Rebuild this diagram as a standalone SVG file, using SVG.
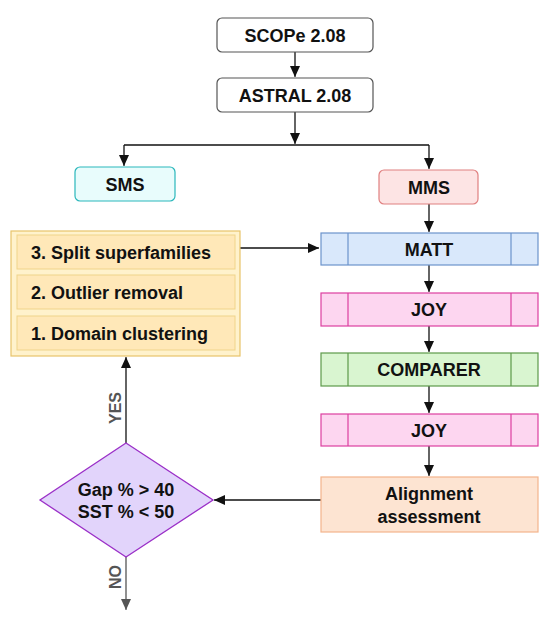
<svg xmlns="http://www.w3.org/2000/svg" width="551" height="628" viewBox="0 0 551 628">
<style>
text{font-family:"Liberation Sans",Arial,sans-serif;font-weight:bold;font-size:18px;fill:#111;}
.c{text-anchor:middle;}
.ln{fill:none;stroke:#111;stroke-width:1.3;}
.gl{fill:none;stroke:#555;stroke-width:1.3;}
.lab{fill:#555;font-size:16px;}
</style>
<defs>
<marker id="ah" markerWidth="10" markerHeight="12" refX="11" refY="5.5" orient="auto" markerUnits="userSpaceOnUse"><path d="M0,0.5 L11,5.5 L0,10.5 Z" fill="#111"/></marker>
<marker id="ahg" markerWidth="10" markerHeight="12" refX="11" refY="5.5" orient="auto" markerUnits="userSpaceOnUse"><path d="M0,0.5 L11,5.5 L0,10.5 Z" fill="#555"/></marker>
</defs>
<g id="connectors">
<path class="ln" d="M295,52 V77" marker-end="url(#ah)"/>
<path class="ln" d="M295,112 V144" marker-end="url(#ah)"/>
<path class="ln" d="M124,145 H429"/>
<path class="ln" d="M124,145 V166" marker-end="url(#ah)"/>
<path class="ln" d="M429,145 V169" marker-end="url(#ah)"/>
<path class="ln" d="M429,204 V232" marker-end="url(#ah)"/>
<path class="ln" d="M240,248 H319" marker-end="url(#ah)"/>
<path class="ln" d="M429,265 V292" marker-end="url(#ah)"/>
<path class="ln" d="M429,326 V352" marker-end="url(#ah)"/>
<path class="ln" d="M429,386 V413" marker-end="url(#ah)"/>
<path class="ln" d="M429,446 V476" marker-end="url(#ah)"/>
<path class="ln" d="M321,500 H214" marker-end="url(#ah)"/>
<path class="ln" d="M126,443 V357" marker-end="url(#ah)"/>
<path class="gl" d="M126,557 V610" marker-end="url(#ahg)"/>
<text class="lab c" transform="translate(121,408) rotate(-90)">YES</text>
<text class="lab c" transform="translate(121,577) rotate(-90)">NO</text>
</g>
<g id="scope">
<rect x="217" y="18" width="156" height="34" rx="5" fill="#fff" stroke="#555" stroke-width="1.2"/>
<text class="c" x="295" y="41.5">SCOPe 2.08</text>
</g>
<g id="astral">
<rect x="217" y="78" width="156" height="34" rx="5" fill="#fff" stroke="#555" stroke-width="1.2"/>
<text class="c" x="295" y="101.5">ASTRAL 2.08</text>
</g>
<g id="sms">
<rect x="75" y="167" width="100" height="34" rx="5" fill="#e8fcfc" stroke="#2ab7bb" stroke-width="1.2"/>
<text class="c" x="125" y="190.5">SMS</text>
</g>
<g id="mms">
<rect x="379" y="170" width="99" height="34" rx="5" fill="#fde4e4" stroke="#e08080" stroke-width="1.2"/>
<text class="c" x="429" y="193.5">MMS</text>
</g>
<g id="steps">
<rect x="11" y="231" width="229" height="125" fill="#fff2cc" stroke="#e8c46a" stroke-width="1.2"/>
<rect x="17" y="235" width="218" height="34" fill="#ffe8b8" stroke="#f0d48a" stroke-width="1"/>
<text x="31" y="258.5">3. Split superfamilies</text>
<rect x="17" y="275" width="218" height="34" fill="#ffe8b8" stroke="#f0d48a" stroke-width="1"/>
<text x="31" y="298.5">2. Outlier removal</text>
<rect x="17" y="316" width="218" height="34" fill="#ffe8b8" stroke="#f0d48a" stroke-width="1"/>
<text x="31" y="339.5">1. Domain clustering</text>
</g>
<g id="matt">
<rect x="321" y="233" width="217" height="32" fill="#d9e8fb" stroke="#6c93cc" stroke-width="1.2"/>
<path d="M348,233 V265 M511,233 V265" stroke="#6c93cc" stroke-width="1.2"/>
<text class="c" x="429" y="255.5">MATT</text>
</g>
<g id="joy1">
<rect x="321" y="293" width="217" height="33" fill="#fdd6f0" stroke="#dd3fa0" stroke-width="1.2"/>
<path d="M348,293 V326 M511,293 V326" stroke="#dd3fa0" stroke-width="1.2"/>
<text class="c" x="429" y="316">JOY</text>
</g>
<g id="comparer">
<rect x="321" y="353" width="217" height="33" fill="#d9f5d0" stroke="#5d9a4a" stroke-width="1.2"/>
<path d="M348,353 V386 M511,353 V386" stroke="#5d9a4a" stroke-width="1.2"/>
<text class="c" x="429" y="376">COMPARER</text>
</g>
<g id="joy2">
<rect x="321" y="414" width="217" height="32" fill="#fdd6f0" stroke="#dd3fa0" stroke-width="1.2"/>
<path d="M348,414 V446 M511,414 V446" stroke="#dd3fa0" stroke-width="1.2"/>
<text class="c" x="429" y="436.5">JOY</text>
</g>
<g id="assessment">
<rect x="321" y="477" width="217" height="55" fill="#fde4d2" stroke="#f3b48c" stroke-width="1.2"/>
<text class="c" x="429" y="500">Alignment</text>
<text class="c" x="429" y="523">assessment</text>
</g>
<g id="decision">
<path d="M126,443 L213,500 L126,557 L40,500 Z" fill="#e2d4fb" stroke="#9b30c8" stroke-width="1.3"/>
<text class="c" x="126" y="496">Gap % &gt; 40</text>
<text class="c" x="126" y="518">SST % &lt; 50</text>
</g>
</svg>
